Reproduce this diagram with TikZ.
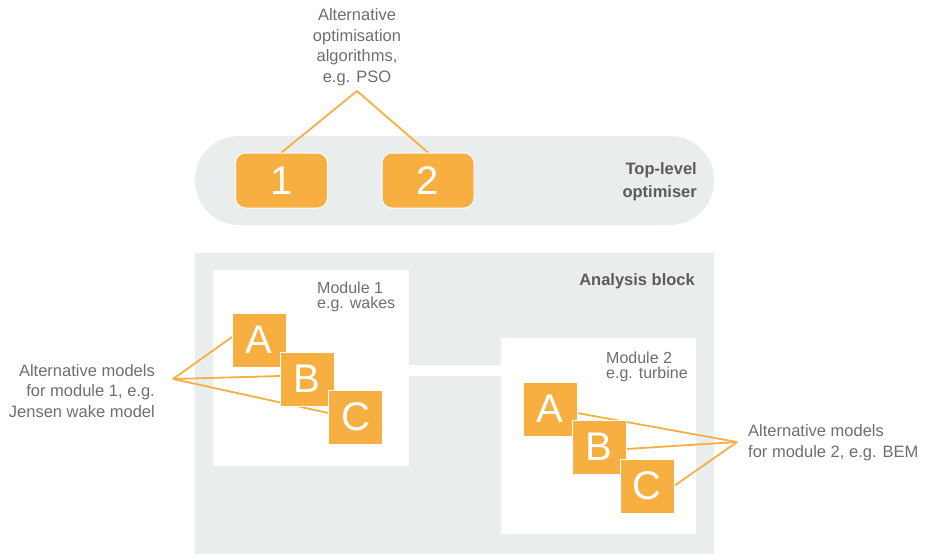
\documentclass[tikz,border=0pt]{standalone}
\usepackage{fontspec}
\setmainfont{Liberation Sans}
\definecolor{boxorange}{HTML}{F8AF42}
\definecolor{panelgray}{HTML}{EAEDED}
\definecolor{labelgray}{HTML}{6D6E71}
\definecolor{headgray}{HTML}{5A5B5D}

\begin{document}
\begin{tikzpicture}[x=1pt,y=-1pt,
  panel/.style={fill=panelgray, draw=none},
  modarea/.style={fill=white, draw=none},
  algobox/.style={fill=boxorange, draw=white, line width=1pt, rounded corners=10pt,
    minimum width=92pt, minimum height=55pt, inner sep=0pt, text=white,
    font=\fontsize{40}{40}\selectfont},
  modelbox/.style={fill=boxorange, draw=white, line width=1pt,
    minimum width=54pt, minimum height=54pt, inner sep=0pt, text=white,
    font=\fontsize{40}{40}\selectfont},
  leader/.style={draw=boxorange, line width=1.8pt},
  note/.style={text=labelgray, inner sep=0pt, font=\fontsize{16.5}{20.5}\selectfont},
  modlabel/.style={text=labelgray, inner sep=0pt, align=left, font=\fontsize{16}{15}\selectfont},
  heading/.style={text=headgray, inner sep=0pt, font=\bfseries\fontsize{16.5}{23}\selectfont}
]
\useasboundingbox (0,0) rectangle (928,555);

% panels
\node[panel, rounded corners=44pt, minimum width=519pt, minimum height=89pt, inner sep=0pt]
  (toppanel) at (454.5,180.5) {};
\path[panel] (195,253) rectangle (714,554);
\path[modarea] (213,270) rectangle (409,466);
\path[modarea] (409,365) rectangle (501,376);
\path[modarea] (501,338) rectangle (696,534);

% headings (anchored at the baseline of the last line)
\node[heading, anchor=base east, align=right] (toplabel) at (697,197) {Top-level\\optimiser};
\node[heading, anchor=base east] (analysislabel) at (695,285) {Analysis block};

% module labels
\node[modlabel, anchor=base west] (mod1label) at (317,308) {Module 1\\e.g. wakes};
\node[modlabel, anchor=base west] (mod2label) at (606,378) {Module 2\\e.g. turbine};

% annotation texts
\node[note, anchor=base, align=center] (algnote) at (357,82)
  {Alternative\\optimisation\\algorithms,\\e.g. PSO};
\node[note, anchor=base east, align=right] (m1note) at (155,417)
  {Alternative models\\for module 1, e.g.\\Jensen wake model};
\node[note, anchor=base west, align=left] (m2note) at (748,457)
  {Alternative models\\for module 2, e.g. BEM};

% leader apexes
\coordinate (algapex) at (357,91);
\coordinate (m1apex) at (173,379);
\coordinate (m2apex) at (737,442);

% optimisation algorithms
\node[algobox] (alg1) at (281.5,180.5) {1};
\node[algobox] (alg2) at (428,180.5) {2};
\draw[leader] (alg1.north) -- (algapex) -- (alg2.north);

% module 1 models
\coordinate (a1pos) at (259,340);
\coordinate (b1pos) at (307,379);
\coordinate (c1pos) at (355.5,417);
\draw[leader] (m1apex) -- ([xshift=-27pt,yshift=3pt]a1pos);
\draw[leader] (m1apex) -- ([xshift=-27pt,yshift=3pt]b1pos);
\draw[leader] (m1apex) -- ([xshift=-27pt,yshift=4pt]c1pos);
\node[modelbox] (m1a) at (a1pos) {A};
\node[modelbox] (m1b) at (b1pos) {B};
\node[modelbox] (m1c) at (c1pos) {C};

% module 2 models
\coordinate (a2pos) at (550,409);
\coordinate (b2pos) at (599,447);
\coordinate (c2pos) at (647,486);
\draw[leader] (m2apex) -- ([xshift=27pt,yshift=-4pt]a2pos);
\draw[leader] (m2apex) -- ([xshift=27pt,yshift=-2pt]b2pos);
\draw[leader] (m2apex) -- ([xshift=27pt]c2pos);
\node[modelbox] (m2a) at (a2pos) {A};
\node[modelbox] (m2b) at (b2pos) {B};
\node[modelbox] (m2c) at (c2pos) {C};
\end{tikzpicture}
\end{document}
